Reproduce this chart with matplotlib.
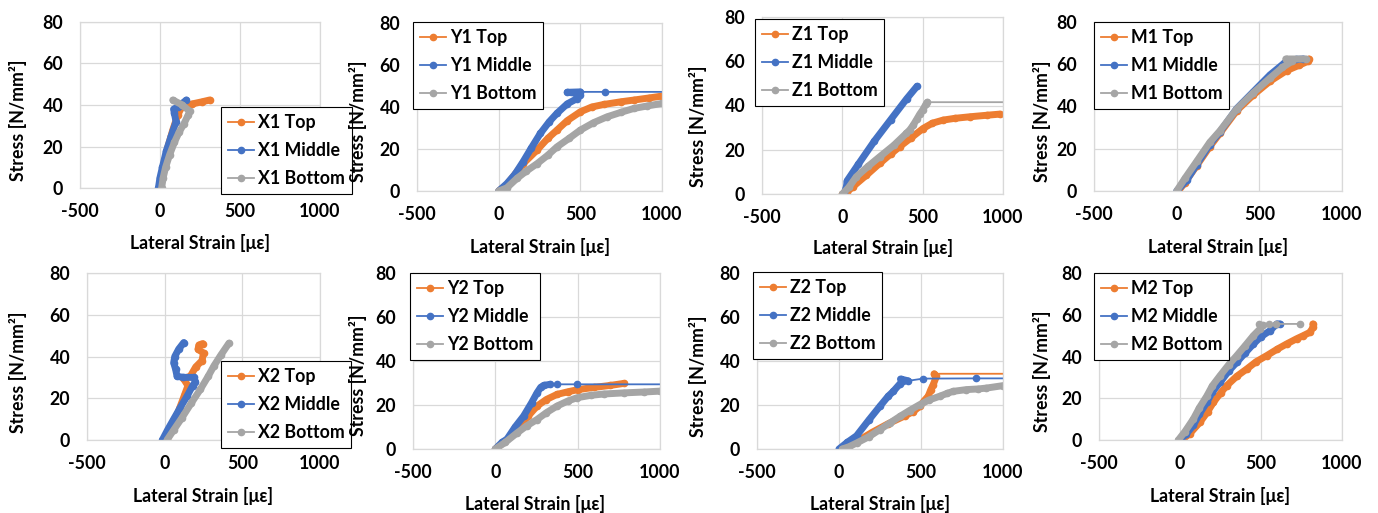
import matplotlib
matplotlib.use('Agg')
import matplotlib.pyplot as plt
from matplotlib.lines import Line2D

plt.rcParams['font.family'] = ['Lato', 'DejaVu Sans']
plt.rcParams['font.weight'] = 'bold'
plt.rcParams['axes.unicode_minus'] = False

# %% data: (lateral strain [με], stress [N/mm²])
X1_TOP = [(0, 0), (20, 10), (50, 20), (80, 28), (110, 35), (135, 39), (200, 40.5), (260, 41.5), (310, 42.4)]
X1_MID = [(-10, 0), (0, 5), (15, 10), (40, 18), (70, 25), (100, 32), (90, 36), (85, 38), (110, 39), (165, 42.4)]
X1_BOT = [(10, 0), (20, 5), (35, 10), (60, 16), (90, 22), (120, 27), (150, 31), (175, 35), (185, 37), (140, 40), (80, 42.4)]

Y1_TOP = [(0, 0), (50, 3), (100, 8), (150, 13), (235, 19.5), (300, 25), (357, 29), (420, 33.5), (500, 37.7),
          (570, 40), (643, 41.2), (750, 42.5), (827, 43.3), (920, 44.3), (1000, 45.2)]
Y1_MID = [(0, 0), (50, 3.5), (100, 8), (150, 14), (200, 20.5), (255, 27.4), (310, 33), (357, 37), (420, 41.5),
          (480, 44), (500, 45.6), (480, 46.5), (420, 47), (500, 47.2), (653, 47.2), (1200, 47.2)]
Y1_BOT = [(0, 0), (50, 1.5), (112, 6), (170, 9.5), (235, 13), (300, 17), (357, 21), (430, 25), (500, 29),
          (580, 32.5), (663, 35.3), (750, 37.5), (827, 39.3), (910, 40.5), (1000, 41.7)]

Z1_TOP = [(0, 0), (30, 1), (66, 3.3), (150, 8.5), (232, 13.8), (300, 18), (357, 21.4), (430, 25.5), (502, 29.6),
          (560, 32), (627, 33.4), (700, 34.2), (793, 34.9), (900, 35.6), (979, 36.1)]
Z1_MID = [(10, 0), (25, 3), (30, 6), (100, 13.5), (200, 24), (300, 33.5), (400, 43), (465, 48.7)]
Z1_BOT = [(0, 0), (40, 3), (87, 7.8), (160, 12.5), (232, 16.8), (320, 22), (398, 27.4), (420, 29), (440, 31),
          (465, 34), (481, 36), (500, 38), (523, 40.9), (530, 41.5), (1200, 41.5)]

M1_TOP = [(10, 0), (50, 4), (121, 12), (200, 21), (262, 27.4), (363, 38), (464, 45.5), (565, 52), (665, 57),
          (740, 59.5), (796, 61.5), (800, 62.5)]
M1_MID = [(0, 0), (60, 5), (121, 12.5), (200, 22), (262, 28), (363, 39), (464, 47), (565, 55), (650, 60.5),
          (720, 62.3), (766, 62.5)]
M1_BOT = [(0, 0), (50, 6), (121, 14), (200, 23), (262, 28.5), (363, 38.8), (464, 46.5), (565, 53.5), (640, 58.5),
          (700, 61.5), (660, 62.5), (780, 62.5)]

X2_TOP = [(15, 0), (40, 5), (70, 10), (100, 16), (130, 22), (150, 26), (120, 29.5), (165, 30.5), (200, 35),
          (240, 38), (250, 41.6), (215, 43.5), (220, 45.5), (245, 46.2)]
X2_MID = [(-15, 0), (20, 5), (58, 10), (100, 15.5), (144, 21), (180, 26), (198, 28), (187, 30), (120, 30),
          (80, 30.5), (70, 34), (58, 37), (65, 40), (90, 43.5), (123, 46.7)]
X2_BOT = [(15, 0), (60, 5), (110, 10.5), (170, 17.5), (230, 24.3), (280, 30.5), (317, 35.5), (360, 40.5), (414, 46.4)]

Y2_TOP = [(0, 0), (60, 3.5), (132, 8.8), (200, 15), (253, 19.5), (310, 22.5), (374, 24.8), (440, 26), (502, 27),
          (600, 28), (698, 28.9), (779, 29.8)]
Y2_MID = [(0, 0), (40, 3), (71, 4.5), (120, 10), (172, 15), (220, 21), (253, 25.5), (275, 28), (293, 28.9),
          (334, 29.4), (374, 29.4), (496, 29.4), (1200, 29.4)]
Y2_BOT = [(0, 0), (60, 3), (132, 7.3), (190, 10.5), (253, 13.4), (310, 16.5), (374, 19.5), (440, 21.8), (496, 23.3),
          (580, 24.4), (658, 25), (779, 25.5), (900, 25.9), (1000, 26.3)]

Z2_TOP = [(20, 0), (100, 3), (200, 7.5), (300, 11.5), (400, 15), (452, 17), (493, 19.4), (520, 22), (544, 24),
          (560, 27), (574, 29.2), (594, 33), (580, 34.2), (1200, 34.2)]
Z2_MID = [(0, 0), (50, 3), (107, 6), (180, 13), (249, 19.4), (300, 24), (331, 26.2), (370, 29.5), (391, 31),
          (375, 31.8), (422, 31), (513, 32), (838, 32.1), (1200, 32.1)]
Z2_BOT = [(20, 0), (60, 1), (107, 2.7), (180, 5.5), (249, 8.8), (310, 11.8), (371, 14.8), (430, 17.5), (493, 20.2),
          (550, 22.3), (615, 24), (660, 25.3), (696, 26.2), (777, 27), (850, 27.3), (899, 27.7), (1000, 28.8)]

M2_TOP = [(10, 0), (60, 3), (123, 8.5), (170, 13.5), (206, 18), (250, 22.5), (288, 26), (350, 30.5), (412, 34),
          (470, 37.5), (535, 40.4), (600, 43.5), (658, 46), (720, 48.5), (761, 50), (800, 51.5), (823, 54), (820, 55.6)]
M2_MID = [(0, 0), (40, 3), (82, 7), (120, 12.5), (165, 18), (200, 23), (247, 27.6), (300, 33), (350, 37.2),
          (400, 41.5), (453, 46), (500, 49.5), (556, 52.4), (597, 55.6), (617, 55.6)]
M2_BOT = [(-10, 0), (30, 4), (82, 10), (120, 15.5), (165, 21), (200, 26), (247, 30.8), (300, 36), (350, 40.4),
          (400, 45), (453, 50), (494, 53.2), (510, 55), (490, 55.5), (550, 55.5), (590, 55.6), (741, 55.6)]

PANELS = ['X1', 'Y1', 'Z1', 'M1', 'X2', 'Y2', 'Z2', 'M2']
POSITIONS = ['Top', 'Middle', 'Bottom']
SERIES = {
    'X1': [X1_TOP, X1_MID, X1_BOT], 'Y1': [Y1_TOP, Y1_MID, Y1_BOT],
    'Z1': [Z1_TOP, Z1_MID, Z1_BOT], 'M1': [M1_TOP, M1_MID, M1_BOT],
    'X2': [X2_TOP, X2_MID, X2_BOT], 'Y2': [Y2_TOP, Y2_MID, Y2_BOT],
    'Z2': [Z2_TOP, Z2_MID, Z2_BOT], 'M2': [M2_TOP, M2_MID, M2_BOT],
}
XTICKS = [-500, 0, 500, 1000]
YTICKS = [0, 20, 40, 60, 80]

# %% layout (pixels in the 1378x513 picture)
COLORS = ['#ED7D31', '#4472C4', '#A5A5A5']
# how many leading points of each series are dense (drawn as a thick band); rest is sparse
THICK = {'Y1': [None, 14, None], 'Z1': [None, None, 14], 'Y2': [None, 10, None],
         'Z2': [13, 11, None], 'M2': [None, None, 13]}
BOXES = {'X1': (80, 22, 320, 188), 'Y1': (417, 23, 662, 191), 'Z1': (762, 17, 1003, 194),
         'M1': (1094, 22, 1342, 191), 'X2': (87, 273, 320, 440), 'Y2': (413, 273, 660, 449),
         'Z2': (757, 273, 1003, 449), 'M2': (1099, 273, 1342, 440)}
LEGEND_AT = {'X1': (221, 107), 'Y1': (413, 22), 'Z1': (755, 19), 'M1': (1094, 22),
             'X2': (221, 361), 'Y2': (410, 273), 'Z2': (753, 272), 'M2': (1094, 273)}
YLABEL_AT = {'X1': (18, 120), 'Y1': (358, 121), 'Z1': (698, 126), 'M1': (1042, 121),
             'X2': (18, 372), 'Y2': (358, 375), 'Z2': (698, 376), 'M2': (1042, 371)}
XLABEL_AT = {'X1': (200, 243), 'Y1': (540, 247), 'Z1': (883, 248), 'M1': (1218, 247),
             'X2': (203, 496), 'Y2': (535, 504), 'Z2': (880, 504), 'M2': (1220, 496)}

W, H = 1378, 513
FS = 12.8
fig = plt.figure(figsize=(W / 100, H / 100), dpi=100)


def fpos(px, py):
    return px / W, 1 - py / H


for name in PANELS:
    l, t, r, b = BOXES[name]
    ax = fig.add_axes([l / W, 1 - b / H, (r - l) / W, (b - t) / H])
    ax.set_xlim(-500, 1000)
    ax.set_ylim(0, 80)
    ax.set_xticks(XTICKS)
    ax.set_yticks(YTICKS)
    ax.grid(True, color='#d9d9d9', lw=0.9)
    ax.set_axisbelow(True)
    for s in ax.spines.values():
        s.set_color('#d9d9d9')
        s.set_linewidth(0.9)
    ax.tick_params(axis='both', length=0, labelsize=FS)
    ax.tick_params(axis='x', pad=11)
    ax.tick_params(axis='y', pad=12)

    thick = THICK.get(name, [None, None, None])
    for pts, color, n in zip(SERIES[name], COLORS, thick):
        xs, ys = zip(*pts)
        n = len(xs) if n is None else n
        ax.plot(xs, ys, color=color, lw=1.3, marker='o', ms=4.5, mec=color)
        ax.plot(xs[:n], ys[:n], color=color, lw=5,
                solid_capstyle='round', solid_joinstyle='round')

    handles = [Line2D([], [], color=c, lw=1.3, marker='o', ms=4.5) for c in COLORS]
    labels = [f'{name} {p}' for p in POSITIONS]
    leg = ax.legend(handles, labels, loc='upper left', bbox_to_anchor=fpos(*LEGEND_AT[name]),
                    bbox_transform=fig.transFigure, borderaxespad=0, fancybox=False,
                    edgecolor='black', framealpha=1, fontsize=FS, handlelength=1.5,
                    handletextpad=0.2, labelspacing=0.62, borderpad=0.38)
    leg.get_frame().set_linewidth(0.8)
    leg.set_zorder(10)

    ax.set_xlabel('Lateral Strain [με]', fontsize=FS, fontweight='bold', va='center')
    ax.set_ylabel('Stress [N/mm²]', fontsize=FS, fontweight='bold', va='center')
    ax.xaxis.set_label_coords(*fpos(*XLABEL_AT[name]), transform=fig.transFigure)
    ax.yaxis.set_label_coords(*fpos(*YLABEL_AT[name]), transform=fig.transFigure)

plt.savefig('out.png', dpi=100)
